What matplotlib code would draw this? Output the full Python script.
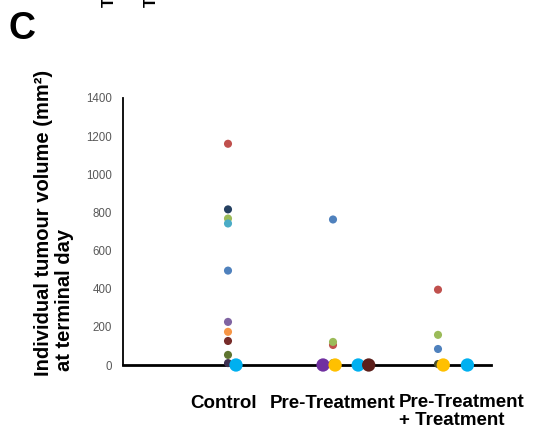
import matplotlib
matplotlib.use("Agg")
import matplotlib.pyplot as plt
from matplotlib.transforms import blended_transform_factory

plt.rcParams['font.family'] = ['Liberation Sans', 'DejaVu Sans']

# ---- data ----
categories = ["Control", "Pre-Treatment", "Pre-Treatment\n+ Treatment"]

control_vals = [1160, 816, 768, 742, 495, 226, 174, 126, 53, 10]
control_cols = ["#C0504D", "#254061", "#9BBB59", "#4BACC6", "#4F81BD",
                "#8064A2", "#F79646", "#772C2A", "#5F7530", "#3F3151"]

pre_vals = [763, 105, 121, 10]
pre_cols = ["#4F81BD", "#C0504D", "#9BBB59", "#5F7530"]

pretreat_vals = [395, 158, 84, 5]
pretreat_cols = ["#C0504D", "#9BBB59", "#4F81BD", "#4A5030"]

# zero-volume mice (larger markers, spread along the baseline)
zero_x = [1.076, 1.905, 2.02, 2.24, 2.34, 3.05, 3.28]
zero_vals = [0, 0, 0, 0, 0, 0, 0]
zero_cols = ["#00B0F0", "#7030A0", "#FFC000", "#00B0F0", "#5C1F1B",
             "#FFC000", "#00B0F0"]

yticks = [0, 200, 400, 600, 800, 1000, 1200, 1400]

# ---- figure ----
fig = plt.figure(figsize=(5.35, 4.30), dpi=100)
ax = fig.add_axes([123/535, 1-365/430, (490.5-123)/535, (365-98)/430])

groups = [(1, control_vals, control_cols),
          (2, pre_vals, pre_cols),
          (3, pretreat_vals, pretreat_cols)]
for xpos, vals, cols in groups:
    ax.scatter([xpos]*len(vals), vals, s=34, c=cols, zorder=3,
               clip_on=False, linewidths=0)

ax.scatter(zero_x, zero_vals, s=92, c=zero_cols, zorder=4,
           clip_on=False, linewidths=0)

ax.set_xlim(0, 3.5)
ax.set_ylim(0, 1400)
ax.set_yticks(yticks)
ax.set_yticklabels([str(v) for v in yticks], fontsize=8.3, color="#595959")
ax.tick_params(axis='y', length=0, pad=8)
ax.set_xticks([])

for s in ['top', 'right']:
    ax.spines[s].set_visible(False)
ax.spines['left'].set_linewidth(1.3)
ax.spines['bottom'].set_linewidth(2.0)
ax.spines['left'].set_zorder(2)
ax.spines['bottom'].set_zorder(2)

trans = blended_transform_factory(ax.transData, fig.transFigure)
ax.text(0.96, 1-403/430, categories[0], transform=trans, ha='center',
        va='center', fontsize=13.5, fontweight='bold')
ax.text(2.0, 1-403/430, categories[1], transform=trans, ha='center',
        va='center', fontsize=13.5, fontweight='bold')
ax.text(2.63, 1-394/430, categories[2], transform=trans, ha='left',
        va='top', fontsize=13.5, fontweight='bold', linespacing=1.08)

# y axis title (two lines)
fig.text(44/535, 1-223/430, "Individual tumour volume (mm²)",
         rotation=90, ha='center', va='center', fontsize=14.5,
         fontweight='bold')
fig.text(65/535, 1-300/430, "at terminal day", rotation=90, ha='center',
         va='center', fontsize=14.5, fontweight='bold')

# panel letter
fig.text(22/535, 1-29/430, "C", ha='center', va='center', fontsize=27,
         fontweight='bold')

# clipped fragments of neighbouring panel
fig.text(109/535, 1-2/430, "T", rotation=90, ha='center', va='center',
         fontsize=12, fontweight='bold')
fig.text(151/535, 1-2/430, "T", rotation=90, ha='center', va='center',
         fontsize=12, fontweight='bold')

fig.savefig("out.png", dpi=100)
